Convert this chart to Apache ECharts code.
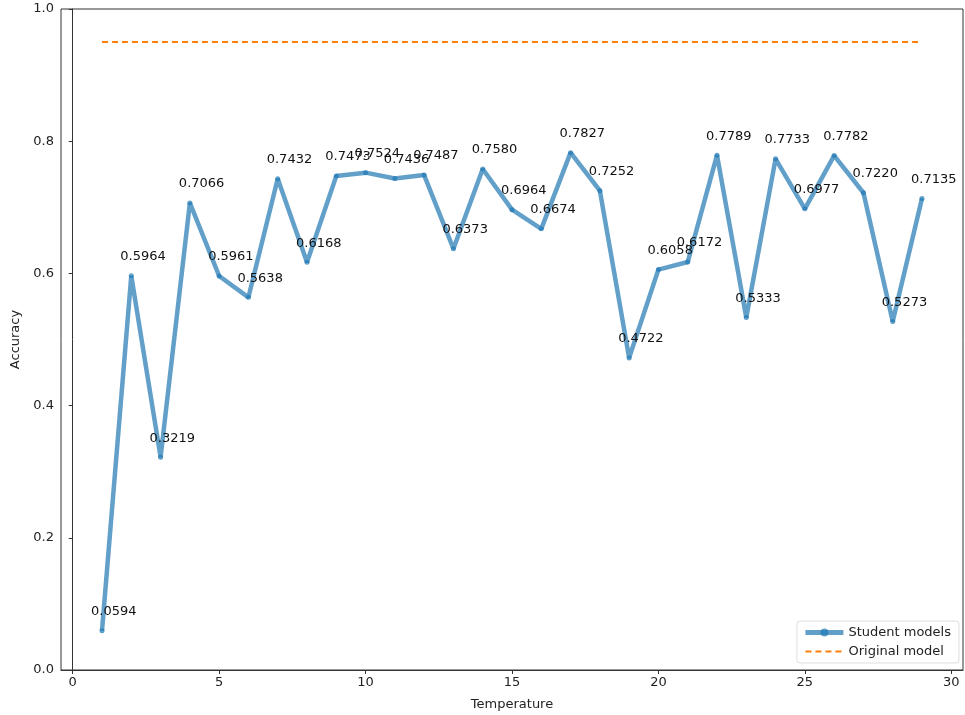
<!DOCTYPE html>
<html>
<head>
<meta charset="utf-8">
<script src="https://cdn.jsdelivr.net/npm/echarts@6/dist/echarts.min.js"></script>
<style>
  html, body { margin: 0; padding: 0; background: #fff; }
  #chart { width: 965px; height: 715px; }
</style>
</head>
<body>
<div id="chart"></div>
<script>
// temperatures and student accuracies
var temps = [1, 2, 3, 4, 5, 6, 7, 8, 9, 10, 11, 12, 13, 14, 15, 16, 17, 18, 19, 20, 21, 22, 23, 24, 25, 26, 27, 28, 29];
var studentAcc = [0.0594, 0.5964, 0.3219, 0.7066, 0.5961, 0.5638, 0.7432, 0.6168, 0.7473, 0.7524,
                  0.7436, 0.7487, 0.6373, 0.7580, 0.6964, 0.6674, 0.7827, 0.7252, 0.4722, 0.6058,
                  0.6172, 0.7789, 0.5333, 0.7733, 0.6977, 0.7782, 0.7220, 0.5273, 0.7135];
var originalAcc = 0.95;
var xTicks = [0, 5, 10, 15, 20, 25, 30];

var font = 'DejaVu Sans';
var myChart = echarts.init(document.getElementById('chart'));

var studentData = temps.map(function (t, i) { return [t, studentAcc[i]]; });
var originalData = [[temps[0], originalAcc], [temps[temps.length - 1], originalAcc]];

var option = {
    backgroundColor: '#fff',
    animation: false,
    textStyle: { fontFamily: font },
    grid: {
        left: 61, right: 2, top: 9, bottom: 45,
        outerBoundsMode: 'none',
        containLabel: false,
        show: true, borderColor: '#333', borderWidth: 1
    },
    legend: {
        right: 6, bottom: 52,
        orient: 'vertical',
        backgroundColor: '#fff',
        borderColor: '#ddd', borderWidth: 1, borderRadius: 3,
        padding: [5, 8, 5, 6],
        itemGap: 6,
        itemWidth: 38, itemHeight: 10,
        textStyle: { fontFamily: font, fontSize: 13, color: '#222' },
        data: [
            { name: 'Student models', lineStyle: { width: 5 } },
            { name: 'Original model', itemStyle: { opacity: 0 }, lineStyle: { width: 2 } }
        ]
    },
    xAxis: {
        type: 'value',
        min: -0.4, max: 30.4,
        name: 'Temperature',
        nameLocation: 'middle',
        nameGap: 28,
        nameTextStyle: { fontFamily: font, fontSize: 13, color: '#222' },
        splitLine: { show: false },
        axisLine: { onZero: false, lineStyle: { color: '#333' } },
        axisTick: { show: true, length: 4, customValues: xTicks, lineStyle: { color: '#333' } },
        axisLabel: { customValues: xTicks, fontFamily: font, fontSize: 13, color: '#222', margin: 6 }
    },
    yAxis: {
        type: 'value',
        min: 0, max: 1, interval: 0.2,
        name: 'Accuracy',
        nameLocation: 'middle',
        nameGap: 38,
        nameTextStyle: { fontFamily: font, fontSize: 13, color: '#222' },
        splitLine: { show: false },
        axisLine: { show: true, lineStyle: { color: '#333' } },
        axisTick: { show: true, length: 4, lineStyle: { color: '#333' } },
        axisLabel: {
            fontFamily: font, fontSize: 13, color: '#222', margin: 7,
            formatter: function (v) { return v.toFixed(1); }
        }
    },
    series: [
        {
            name: 'Student models',
            type: 'line',
            data: studentData,
            symbol: 'circle',
            symbolSize: 5,
            lineStyle: { width: 4.5, color: 'rgba(31,119,180,0.7)' },
            itemStyle: { color: 'rgba(31,119,180,0.7)' },
            label: {
                show: true,
                position: 'top',
                distance: 10,
                align: 'left',
                offset: [-11, 0],
                fontFamily: font, fontSize: 13, color: '#111',
                formatter: function (p) { return p.value[1].toFixed(4); }
            },
            z: 3
        },
        {
            name: 'Original model',
            type: 'line',
            data: originalData,
            symbol: 'none',
            lineStyle: { width: 2, color: '#ff7f0e', type: [6, 4] },
            itemStyle: { color: '#ff7f0e' },
            z: 2
        }
    ]
};

myChart.setOption(option);
window.addEventListener("resize", function () {
    myChart.resize();
});
</script>
</body>
</html>
